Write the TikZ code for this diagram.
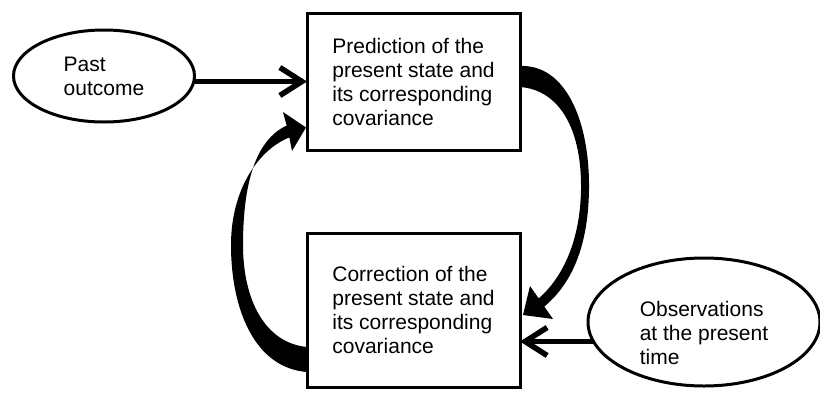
\documentclass[tikz,border=0pt]{standalone}
\usepackage{fontspec}
\setmainfont{Liberation Sans}
\usetikzlibrary{shapes.geometric, arrows.meta}

\begin{document}
\begin{tikzpicture}[
    x=1pt, y=-1pt,
    stage/.style={rectangle, draw, line width=3pt, outer sep=0pt, minimum width=213pt, align=left, font=\fontsize{21}{24}\selectfont},
    source/.style={ellipse, draw, line width=3pt, outer sep=0pt, inner sep=0pt, align=left, font=\fontsize{21}{24}\selectfont},
    feed/.style={line width=5pt, -{Straight Barb[length=22pt, width=28pt, line width=5.5pt]}},
    cycleflow/.style={fill=black}
  ]
    \useasboundingbox (0,0) rectangle (820,397);
    \node[stage, minimum height=137pt] (pred) at (413.5, 81.5) {Prediction of the\\present state and\\its corresponding\\covariance};
    \node[stage, minimum height=154pt] (corr) at (413.5, 310) {Correction of the\\present state and\\its corresponding\\covariance};
    \node[source, minimum width=181pt, minimum height=92pt] (past) at (104, 76) {Past\\outcome};
    \node[source, minimum width=232pt, minimum height=128pt,
      label={[align=left, font=\fontsize{21}{24}\selectfont, yshift=-11pt]center:Observations\\at the present\\time}] (obs) at (704, 322) {};

    \draw[feed] (past.east |- pred.west) -- (pred.west);
    \draw[feed] (obs.190) -- (obs.190 -| corr.east);

    % prediction -> correction
    \fill[cycleflow] ([yshift=15.5pt]pred.east) .. controls (565,64) and (590,120) .. (589,190)
      .. controls (588,250) and (570,285) .. (544.3,306.6) -- (553,319)
      -- ([xshift=3pt,yshift=-5pt]corr.east) -- (530,286) -- (538.7,298.4)
      .. controls (560,280) and (580,245) .. (581,190)
      .. controls (582,130) and (560,90) .. ([yshift=-5.5pt]pred.east) -- cycle;
    % correction -> prediction
    \fill[cycleflow] ([yshift=-62pt]corr.west) .. controls (255,368) and (231,310) .. (231,245)
      .. controls (231,190) and (258,150) .. (289.3,137.4) -- (292,151)
      -- ([xshift=-1pt,yshift=-46pt]pred.west) -- (283,112) -- (286.7,125.6)
      .. controls (255,140) and (243,185) .. (243,245)
      .. controls (243,300) and (265,343) .. ([yshift=-37pt]corr.west) -- cycle;
\end{tikzpicture}
\end{document}
